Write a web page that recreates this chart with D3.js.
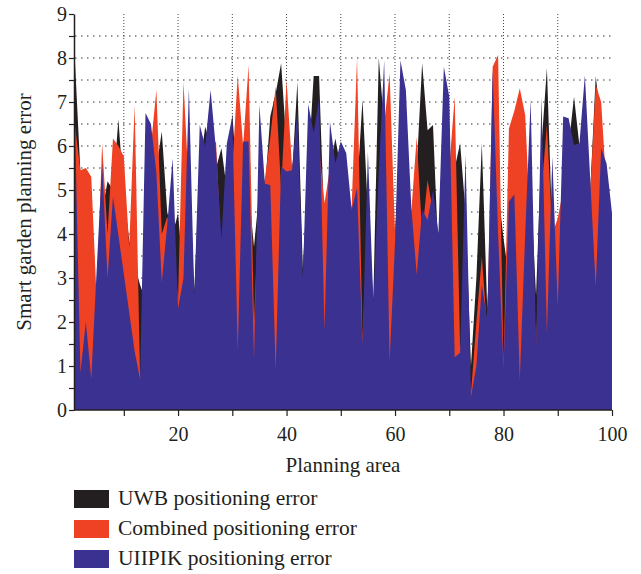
<!DOCTYPE html>
<html><head><meta charset="utf-8">
<script src="https://cdn.jsdelivr.net/npm/d3@7"></script>
<style>body{margin:0;background:#fff}svg{display:block}</style>
</head><body>
<svg id="c" width="641" height="574"></svg>
<script>
const seriesNames = ["UWB positioning error", "Combined positioning error", "UIIPIK positioning error"];
const seriesColors = ["#231f20", "#ef4123", "#3a3190"];
const xTickValues = [10,20,30,40,50,60,70,80,90,100];
const xTickLabels = ["", "20", "", "40", "", "60", "", "80", "", "100"];
const yTickValues = [0,0.5,1,1.5,2,2.5,3,3.5,4,4.5,5,5.5,6,6.5,7,7.5,8,8.5,9];
const yTickLabels = ["0","","1","","2","","3","","4","","5","","6","","7","","8","","9"];

const uwb = [7.9,5.4,4.5,4.0,2.0,4.5,5.2,5.0,6.6,4.9,
3.86,3.3,2.84,2.5,6.0,5.5,6.33,4.5,4.0,4.47,
3.0,5.0,2.73,5.5,6.44,6.0,5.5,5.95,5.0,6.74,
5.0,5.5,5.0,3.71,5.0,5.0,6.67,7.2,7.88,6.0,
5.3,7.46,3.2,5.5,7.59,7.59,4.0,5.5,6.17,5.5,
5.0,4.0,5.0,7.05,4.5,2.5,8.0,6.5,5.0,4.0,
6.0,5.5,4.0,5.5,7.88,6.36,6.48,3.5,5.0,5.0,
5.5,6.06,4.5,1.0,3.0,6.06,2.3,5.0,5.0,3.9,
3.0,3.0,3.0,3.0,5.0,2.6,6.0,7.77,4.0,3.0,
5.0,6.0,7.12,6.0,6.0,5.0,7.59,6.5,5.0,4.0];

const combined = [6.45,5.45,5.5,5.3,2.5,6.06,4.0,6.17,6.0,5.76,
3.7,6.93,0.72,2.0,6.0,7.27,4.0,4.39,4.0,2.5,
7.46,5.0,2.0,5.0,5.0,6.0,6.1,3.5,5.0,5.5,
7.61,6.0,7.84,2.0,5.0,5.25,6.2,7.36,5.0,7.5,
5.55,6.0,2.5,5.0,5.5,6.0,4.7,5.5,5.0,5.5,
5.0,4.6,8.0,1.6,4.5,2.0,5.0,6.5,7.65,4.0,
6.0,6.0,4.5,6.21,4.0,5.23,4.5,3.5,5.0,5.5,
7.12,1.4,2.0,0.38,2.0,3.49,1.8,7.8,8.07,1.0,
6.4,6.8,7.31,6.7,4.0,1.5,5.0,6.48,4.0,4.36,
5.0,6.0,5.5,5.5,6.0,5.0,7.39,7.0,5.0,4.0];

const uiipik = [6.5,0.84,2.0,0.7,3.2,5.6,3.0,4.85,3.97,3.09,
2.21,1.33,0.7,6.75,6.5,5.4,2.9,4.2,5.72,2.3,
3.0,7.31,2.6,6.48,6.0,7.27,5.9,3.9,6.06,6.67,
1.36,6.1,6.1,1.14,6.93,5.15,5.11,0.91,5.53,5.42,
5.45,6.82,3.0,6.95,6.3,7.08,1.8,6.55,5.61,6.1,
5.84,4.55,5.04,1.5,5.87,2.46,5.4,7.95,1.1,3.8,
7.95,7.27,4.6,3.07,4.55,4.32,5.0,4.02,7.8,7.12,
1.2,1.3,5.8,0.3,1.0,2.84,2.05,7.73,4.0,0.95,
4.74,4.9,0.68,4.0,7.05,1.45,7.12,1.74,5.76,2.35,
6.67,6.63,6.02,6.06,7.61,5.2,2.8,5.95,5.6,4.47];

const planningArea = d3.range(1, 101);
const allSeries = [uwb, combined, uiipik];

const svg = d3.select("#c");
const x = d3.scaleLinear().domain([1,100]).range([75,612]);
const y = d3.scaleLinear().domain([0,9]).range([410,14]);
const font = "'Liberation Serif','DejaVu Serif',serif";
const ink = "#231f20";

// grid
const grid = svg.append("g");
grid.selectAll("line.h").data(yTickValues.filter(v => v > 0 && v < 9)).join("line")
  .attr("x1", x(1)).attr("x2", x(100))
  .attr("y1", d => y(d)).attr("y2", d => y(d))
  .attr("stroke", "#333").attr("stroke-width", 1.1).attr("stroke-dasharray", "1.5,4.5");
grid.selectAll("line.v").data(xTickValues.filter(v => v < 100)).join("line")
  .attr("x1", d => x(d)).attr("x2", d => x(d))
  .attr("y1", y(9)).attr("y2", y(0))
  .attr("stroke", "#444").attr("stroke-width", 1).attr("stroke-dasharray", "1,2");

// areas
const area = d3.area().x((d,i) => x(planningArea[i])).y0(y(0)).y1(d => y(d)).curve(d3.curveLinear);
svg.append("g").selectAll("path").data(allSeries).join("path")
  .attr("d", d => area(d)).attr("fill", (d,i) => seriesColors[i]);

// axes
const xAxis = d3.axisBottom(x).tickValues(xTickValues).tickFormat((d,i) => xTickLabels[i]).tickSize(6).tickPadding(11).tickSizeOuter(0);
const gx = svg.append("g").attr("transform", `translate(0,${y(0)})`).call(xAxis);
gx.select(".domain").attr("stroke", ink).attr("stroke-width", 1.5).attr("d", `M${x(1)-1},0H${x(100)}`);
gx.selectAll(".tick line").attr("stroke", ink).attr("stroke-width", 1.2);
gx.selectAll(".tick text").attr("font-family", font).attr("font-size", 20).attr("fill", ink);

const yAxis = d3.axisLeft(y).tickValues(yTickValues).tickFormat((d,i) => yTickLabels[i]).tickSize(5).tickPadding(2).tickSizeOuter(0);
const gy = svg.append("g").attr("transform", `translate(${x(1)-1},0)`).call(yAxis);
gy.select(".domain").attr("stroke", ink).attr("stroke-width", 1.5);
gy.selectAll(".tick line").attr("stroke", ink).attr("stroke-width", 1.2);
gy.selectAll(".tick text").attr("font-family", font).attr("font-size", 20).attr("fill", ink);

// titles
svg.append("text").attr("x", 343).attr("y", 472).attr("text-anchor", "middle")
  .attr("font-family", font).attr("font-size", 21).attr("fill", ink).text("Planning area");
svg.append("text").attr("transform", `translate(31,${(y(0)+y(9))/2}) rotate(-90)`).attr("text-anchor", "middle")
  .attr("font-family", font).attr("font-size", 21).attr("fill", ink).text("Smart garden planning error");

// legend
const lg = svg.append("g").selectAll("g").data(seriesNames).join("g")
  .attr("transform", (d,i) => `translate(74,${490 + i*30})`);
lg.append("rect").attr("width", 35).attr("height", 18).attr("fill", (d,i) => seriesColors[i]);
lg.append("text").attr("x", 44).attr("y", 15).attr("font-family", font).attr("font-size", 21.5).attr("fill", ink).text(d => d);
</script>
</body></html>
